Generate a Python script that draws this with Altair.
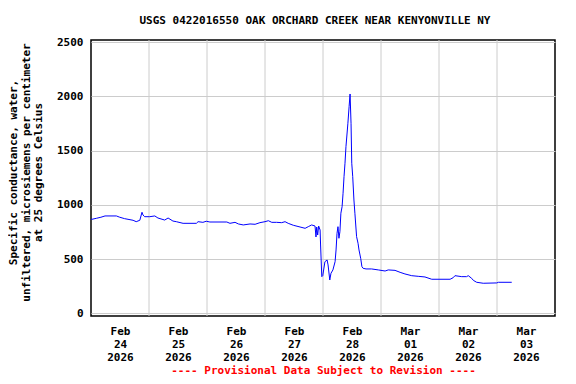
import altair as alt
import pandas as pd

# hours after 2026-02-24 00:00 and specific conductance values
hours = [0, 0.4, 2.2, 4.1, 5.8, 10.5, 11.9, 13.9, 17.4, 18.7, 20.2, 21.1, 21.5, 22.2,
         24.3, 26.4, 27.7, 30.5, 31.9, 33.9, 35.3, 38.1, 43.6, 44.3, 46.3, 47.7, 49.2,
         56.2, 57.5, 59.6, 61.0, 63.0, 65.8, 67.9, 69.9, 72.0, 73.4, 74.8, 76.8, 78.9,
         80.3, 81.6, 83.7, 86.5, 88.6, 89.9, 91.3, 92.7, 93.1, 93.4, 93.8, 94.2, 94.8,
         95.0, 95.5, 95.9, 96.8, 97.7, 98.1, 98.8, 99.3, 100.1, 101.0, 101.4, 101.8,
         102.2, 102.6, 103.0, 103.4, 103.9, 104.3, 104.7, 105.1, 105.5, 106.3, 106.8,
         107.2, 107.6, 107.9, 108.3, 108.8, 109.2, 109.9, 110.5, 110.9, 111.6, 112.1,
         112.6, 113.8, 116.1, 118.9, 121.7, 123.0, 125.8, 127.9, 129.9, 132.7, 135.4,
         138.2, 141.0, 148.6, 149.9, 150.6, 153.4, 155.4, 156.1, 157.5, 158.2, 159.6,
         162.3, 167.9, 168.6, 174.1]
values = [867, 867, 876, 886, 898, 898, 886, 873, 858, 845, 858, 932, 907, 891,
          891, 898, 879, 860, 879, 851, 845, 830, 830, 845, 839, 849, 842,
          842, 830, 839, 824, 815, 824, 821, 836, 845, 854, 839, 839, 836,
          845, 830, 812, 796, 784, 799, 815, 805, 704, 796, 722, 805, 768,
          630, 338, 347, 476, 492, 446, 307, 369, 400, 476, 584, 738,
          799, 692, 753, 923, 983, 1107, 1260, 1384, 1537, 1753, 1906,
          2023, 1753, 1384, 1260, 1045, 923, 707, 646, 584, 507, 430,
          415, 409, 409, 400, 390, 400, 396, 378, 363, 347, 341,
          335, 314, 314, 329, 347, 338, 338, 347, 323, 304, 286,
          277, 280, 286, 286]

day_labels = ["2026-02-24", "2026-02-25", "2026-02-26", "2026-02-27",
              "2026-02-28", "2026-03-01", "2026-03-02", "2026-03-03"]
grid_days = ["2026-02-25", "2026-02-26", "2026-02-27", "2026-02-28",
             "2026-03-01", "2026-03-02", "2026-03-03"]
y_ticks = [0, 500, 1000, 1500, 2000, 2500]

start = pd.Timestamp("2026-02-24")
df = pd.DataFrame({
    "time": [(start + pd.to_timedelta(h, unit="h")).strftime("%Y-%m-%dT%H:%M:%S") for h in hours],
    "value": values,
})
grid_df = pd.DataFrame({"time": [d + "T00:00:00" for d in grid_days]})

FONT = "DejaVu Sans Mono"

def dt(s, hour=0):
    y, m, d = [int(p) for p in s.split("-")]
    return alt.DateTime(year=y, month=m, date=d, hours=hour)

x_scale = alt.Scale(domain=[dt("2026-02-24"), dt("2026-03-04")], nice=False)
y_scale = alt.Scale(domain=[-25, 2521], nice=False, zero=False)

x_axis = alt.Axis(
    values=[dt(d, 12) for d in day_labels],
    labelExpr="[timeFormat(datum.value, '%b'), timeFormat(datum.value, '%d'), timeFormat(datum.value, '%Y')]",
    grid=False, ticks=False, domain=False,
    labelFont=FONT, labelFontSize=11, labelFontWeight="bold",
    labelColor="black", labelLineHeight=13, labelPadding=9,
    labelAngle=0, labelAlign="center", labelBaseline="top",
    labelOverlap=False, labelFlush=False,
    title="---- Provisional Data Subject to Revision ----",
    titleFont=FONT, titleFontSize=11, titleFontWeight="bold",
    titleColor="#ff0000", titlePadding=2,
)

rules = alt.Chart(grid_df).mark_rule(color="#cccccc", strokeWidth=1).encode(
    x=alt.X("time:T", scale=x_scale, axis=x_axis)
)

line = alt.Chart(df).mark_line(color="#0000ff", strokeWidth=1).encode(
    x=alt.X("time:T", scale=x_scale, axis=x_axis),
    y=alt.Y("value:Q", scale=y_scale,
            axis=alt.Axis(
                values=y_ticks, format="d", grid=True, gridColor="#cccccc", gridWidth=1,
                ticks=False, domain=False,
                labelFont=FONT, labelFontSize=11, labelFontWeight="bold",
                labelColor="black", labelPadding=8,
                title=["Specific conductance, water,",
                       "unfiltered, microsiemens per centimeter",
                       "at 25 degrees Celsius"],
                titleFont=FONT, titleFontSize=11, titleFontWeight="bold",
                titleColor="black", titleLineHeight=12.5, titlePadding=13,
                titleY=132,
            )),
)

chart = alt.layer(rules, line).properties(
    width=464, height=276,
    title=alt.TitleParams(
        "USGS 0422016550 OAK ORCHARD CREEK NEAR KENYONVILLE NY",
        font=FONT, fontSize=11, fontWeight="bold", color="black",
        anchor="middle", dx=-8, offset=10,
    ),
    autosize=alt.AutoSizeParams(type="none"),
    padding={"left": 83, "top": 32, "right": 13, "bottom": 60},
).configure_view(stroke="black", strokeWidth=1.5)

chart.save("out.html", embed_options={"renderer": "svg", "actions": False})
